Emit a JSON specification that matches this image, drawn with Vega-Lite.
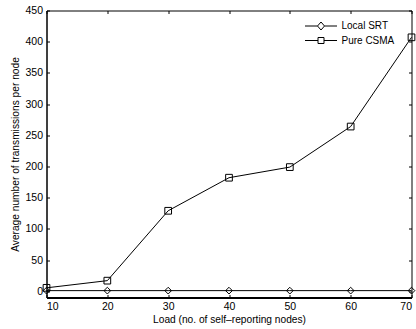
{
  "$schema": "https://vega.github.io/schema/vega-lite/v6.json",
  "width": 365,
  "height": 287,
  "autosize": {"type": "none"},
  "padding": {"left": 46.5, "top": 10.5, "right": 4.5, "bottom": 31.5},
  "background": "white",
  "config": {
    "view": {"stroke": "black", "strokeWidth": 1},
    "font": "Liberation Sans",
    "axis": {
      "grid": false,
      "labelFont": "Liberation Sans",
      "labelFontSize": 10.5,
      "labelColor": "black",
      "titleFont": "Liberation Sans",
      "titleFontSize": 10.2,
      "titleFontWeight": "normal",
      "titleColor": "black",
      "tickColor": "black",
      "domainColor": "black",
      "tickSize": -3,
      "labelPadding": 7
    }
  },
  "data": {
    "values": [
      {"load": 10, "series": "Local SRT", "tx": 1},
      {"load": 20, "series": "Local SRT", "tx": 1},
      {"load": 30, "series": "Local SRT", "tx": 1},
      {"load": 40, "series": "Local SRT", "tx": 1},
      {"load": 50, "series": "Local SRT", "tx": 1},
      {"load": 60, "series": "Local SRT", "tx": 1},
      {"load": 70, "series": "Local SRT", "tx": 1},
      {"load": 10, "series": "Pure CSMA", "tx": 5.5},
      {"load": 20, "series": "Pure CSMA", "tx": 17},
      {"load": 30, "series": "Pure CSMA", "tx": 129},
      {"load": 40, "series": "Pure CSMA", "tx": 182},
      {"load": 50, "series": "Pure CSMA", "tx": 199},
      {"load": 60, "series": "Pure CSMA", "tx": 264},
      {"load": 70, "series": "Pure CSMA", "tx": 407}
    ]
  },
  "layer": [
    {
      "mark": {"type": "line", "color": "black", "strokeWidth": 1},
      "encoding": {
        "detail": {"field": "series"},
        "x": {"field": "load", "type": "quantitative", "scale": {"domain": [10, 70], "nice": false, "zero": false},
          "axis": {"orient": "bottom", "values": [10, 20, 30, 40, 50, 60, 70], "title": "Load (no. of self\u2013reporting nodes)", "titlePadding": 2, "domainWidth": 2}},
        "y": {"field": "tx", "type": "quantitative", "scale": {"domain": [-10, 450], "nice": false, "zero": false},
          "axis": {"orient": "left", "values": [0, 50, 100, 150, 200, 250, 300, 350, 400, 450], "title": "Average number of transmissions per node", "titlePadding": 4}}
      }
    },
    {
      "mark": {"type": "point", "filled": false, "color": "black", "strokeWidth": 1, "size": 45, "opacity": 1},
      "encoding": {
        "x": {"field": "load", "type": "quantitative", "scale": {"domain": [10, 70], "nice": false, "zero": false},
          "axis": {"orient": "top", "values": [10, 20, 30, 40, 50, 60, 70], "labels": false, "title": null, "domain": false}},
        "y": {"field": "tx", "type": "quantitative", "scale": {"domain": [-10, 450], "nice": false, "zero": false},
          "axis": {"orient": "right", "values": [0, 50, 100, 150, 200, 250, 300, 350, 400, 450], "labels": false, "title": null, "domain": false}},
        "shape": {
          "field": "series",
          "type": "nominal",
          "scale": {"domain": ["Local SRT", "Pure CSMA"], "range": ["diamond", "square"]},
          "legend": null
        }
      }
    },
    {
      "transform": [{"filter": "datum.load > 1000"}],
      "mark": {"type": "point", "filled": false, "color": "black", "strokeWidth": 1, "opacity": 1},
      "encoding": {
        "x": {"field": "load", "type": "quantitative", "scale": {"domain": [10, 70], "nice": false, "zero": false}, "axis": null},
        "y": {"field": "tx", "type": "quantitative", "scale": {"domain": [-10, 450], "nice": false, "zero": false}, "axis": null},
        "shape": {
          "field": "series",
          "type": "nominal",
          "scale": {"domain": ["Local SRT", "Pure CSMA"], "range": ["M-3.2,0H-0.7M0.7,0H3.2M0,-0.8L0.7,0L0,0.8L-0.7,0Z", "M-3.2,0H-0.6M0.6,0H3.2M-0.6,-0.6H0.6V0.6H-0.6Z"]},
          "legend": {
            "title": null,
            "orient": "none",
            "legendX": 269,
            "legendY": 10,
            "padding": 0,
            "symbolSize": 100,
            "symbolStrokeColor": "black",
            "symbolFillColor": "transparent",
            "symbolStrokeWidth": 1,
            "labelFont": "Liberation Sans",
            "labelFontSize": 10,
            "labelColor": "black",
            "labelOffset": 15,
            "rowPadding": 2.5
          }
        }
      }
    }
  ],
  "resolve": {"axis": {"x": "independent", "y": "independent"}, "scale": {"shape": "independent"}}
}
